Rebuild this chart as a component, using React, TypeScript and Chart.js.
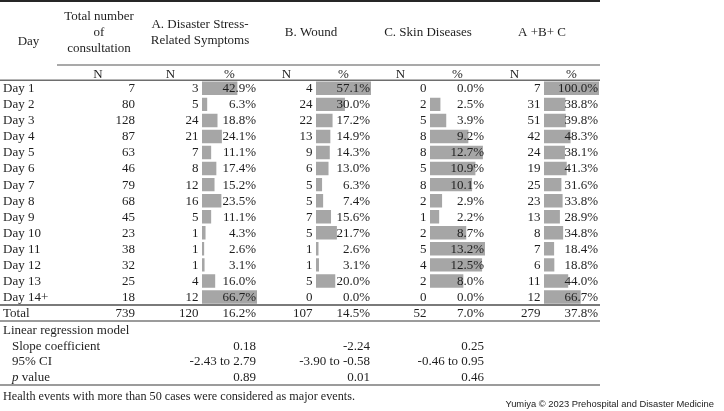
import React, { useEffect, useRef } from 'react';
import { Chart, registerables } from 'chart.js';

Chart.register(...registerables);

// ---- data ----
const days = ['Day 1', 'Day 2', 'Day 3', 'Day 4', 'Day 5', 'Day 6', 'Day 7', 'Day 8', 'Day 9', 'Day 10', 'Day 11', 'Day 12', 'Day 13', 'Day 14+'];
const totalN = [7, 80, 128, 87, 63, 46, 79, 68, 45, 23, 38, 32, 25, 18];
const stressN = [3, 5, 24, 21, 7, 8, 12, 16, 5, 1, 1, 1, 4, 12];
const stressPct = [42.9, 6.3, 18.8, 24.1, 11.1, 17.4, 15.2, 23.5, 11.1, 4.3, 2.6, 3.1, 16.0, 66.7];
const woundN = [4, 24, 22, 13, 9, 6, 5, 5, 7, 5, 1, 1, 5, 0];
const woundPct = [57.1, 30.0, 17.2, 14.9, 14.3, 13.0, 6.3, 7.4, 15.6, 21.7, 2.6, 3.1, 20.0, 0.0];
const skinN = [0, 2, 5, 8, 8, 5, 8, 2, 1, 2, 5, 4, 2, 0];
const skinPct = [0.0, 2.5, 3.9, 9.2, 12.7, 10.9, 10.1, 2.9, 2.2, 8.7, 13.2, 12.5, 8.0, 0.0];
const allN = [7, 31, 51, 42, 24, 19, 25, 23, 13, 8, 7, 6, 11, 12];
const allPct = [100.0, 38.8, 39.8, 48.3, 38.1, 41.3, 31.6, 33.8, 28.9, 34.8, 18.4, 18.8, 44.0, 66.7];

const totalsN = [739, 120, 107, 52, 279]; // total, A, B, C, A+B+C
const totalsPct = [16.2, 14.5, 7.0, 37.8]; // A, B, C, A+B+C

const groupTitles = [['A. Disaster Stress-', 'Related Symptoms'], ['B. Wound'], ['C. Skin Diseases'], ['A +B+ C']];
const slopeCoef = ['0.18', '-2.24', '0.25'];
const ciText = ['-2.43 to 2.79', '-3.90 to -0.58', '-0.46 to 0.95'];
const pValues = ['0.89', '0.01', '0.46'];
const footnote = 'Health events with more than 50 cases were considered as major events.';
const credit = 'Yumiya © 2023 Prehospital and Disaster Medicine';

// ---- layout (column widths as stacked x-axes) ----
const COLS = [
  { id: 'xDay', w: 57 },
  { id: 'xTot', w: 82 },
  { id: 'xAN', w: 63 },
  { id: 'xA', w: 55 },
  { id: 'xBN', w: 59 },
  { id: 'xB', w: 55 },
  { id: 'xCN', w: 59 },
  { id: 'xC', w: 55 },
  { id: 'xEN', w: 59 },
  { id: 'xE', w: 55 },
  { id: 'xPad', w: 125 },
];
const GROUPS = [
  { nId: 'xAN', pId: 'xA', n: stressN, p: stressPct, dx: 2 },
  { nId: 'xBN', pId: 'xB', n: woundN, p: woundPct, dx: -3 },
  { nId: 'xCN', pId: 'xC', n: skinN, p: skinPct, dx: 0 },
  { nId: 'xEN', pId: 'xE', n: allN, p: allPct, dx: 0 },
];

const SERIF = '"Liberation Serif", "Times New Roman", serif';
const F = `13px ${SERIF}`;
const TEXT = '#1e1e1e';
const BAR = '#a6a6a6';

const tablePlugin = {
  id: 'tableText',
  afterDraw(chart: any) {
    const ctx: CanvasRenderingContext2D = chart.ctx;
    const s = chart.scales;
    const yS = s.y;
    const area = chart.chartArea;
    const L = (id: string) => s[id].left;
    const R = (id: string) => s[id].right;
    const C = (a: string, b: string) => (s[a].left + s[b].right) / 2;
    const tableRight = R('xE') + 1;

    ctx.save();
    ctx.fillStyle = TEXT;
    ctx.textBaseline = 'middle';
    const txt = (t: string, x: number, y: number, align: CanvasTextAlign = 'left', font = F) => {
      ctx.font = font;
      ctx.textAlign = align;
      ctx.fillText(t, x, y);
    };
    const hline = (x0: number, x1: number, y: number, color: string, lw: number) => {
      ctx.beginPath();
      ctx.strokeStyle = color;
      ctx.lineWidth = lw;
      ctx.moveTo(x0, y);
      ctx.lineTo(x1, y);
      ctx.stroke();
    };

    // header
    hline(0, tableRight, 1, '#262626', 2);
    txt('Day', C('xDay', 'xDay'), 42, 'center');
    const tc = C('xTot', 'xTot') + 1;
    txt('Total number', tc, 17, 'center');
    txt('of', tc, 33, 'center');
    txt('consultation', tc, 49, 'center');
    GROUPS.forEach((g, i) => {
      const cx = C(g.nId, g.pId) + g.dx;
      const lines = groupTitles[i];
      if (lines.length === 2) {
        txt(lines[0], cx, 25, 'center');
        txt(lines[1], cx, 41, 'center');
      } else {
        txt(lines[0], cx, 33, 'center');
      }
    });
    hline(L('xTot'), tableRight, 65, '#8c8c8c', 1.5);
    txt('N', C('xTot', 'xTot'), 74.5, 'center');
    GROUPS.forEach((g) => {
      txt('N', C(g.nId, g.nId), 74.5, 'center');
      txt('%', C(g.pId, g.pId), 74.5, 'center');
    });
    hline(0, tableRight, area.top, '#6e6e6e', 1.5);

    // body rows
    days.forEach((d, i) => {
      const y = yS.getPixelForValue(i) + 0.5;
      txt(d, 3, y);
      txt(String(totalN[i]), R('xTot') - 4, y, 'right');
      GROUPS.forEach((g) => {
        txt(String(g.n[i]), R(g.nId) - 3.5, y, 'right');
        txt(g.p[i].toFixed(1) + '%', R(g.pId) - 1, y, 'right');
      });
    });
    hline(0, tableRight, area.bottom, '#7a7a7a', 2);

    // totals
    const ty = area.bottom + 8.8;
    txt('Total', 3, ty);
    txt(String(totalsN[0]), R('xTot') - 4, ty, 'right');
    GROUPS.forEach((g, k) => {
      txt(String(totalsN[k + 1]), R(g.nId) - 3.5, ty, 'right');
      txt(totalsPct[k].toFixed(1) + '%', R(g.pId) - 1, ty, 'right');
    });
    hline(0, tableRight, area.bottom + 16, '#7a7a7a', 1.5);

    // regression
    const r0 = area.bottom + 26;
    txt('Linear regression model', 3, r0);
    txt('Slope coefficient', 12, r0 + 15.5);
    txt('95% CI', 12, r0 + 31);
    ctx.font = `italic 13px ${SERIF}`;
    ctx.textAlign = 'left';
    ctx.fillText('p', 12, r0 + 46.5);
    const pw = ctx.measureText('p').width;
    txt(' value', 12 + pw, r0 + 46.5);
    for (let k = 0; k < 3; k++) {
      const x = R(GROUPS[k].pId) - 1;
      txt(slopeCoef[k], x, r0 + 15.5, 'right');
      txt(ciText[k], x, r0 + 31, 'right');
      txt(pValues[k], x, r0 + 46.5, 'right');
    }
    hline(0, tableRight, r0 + 54, '#7a7a7a', 1.5);

    txt(footnote, 3, r0 + 66, 'left', `12.2px ${SERIF}`);
    ctx.fillStyle = '#222';
    txt(credit, 714, 404, 'right', '9.4px "Liberation Sans", Arial, sans-serif');
    ctx.restore();
  },
};

export default function App() {
  const ref = useRef<HTMLCanvasElement | null>(null);
  useEffect(() => {
    document.body.style.margin = '0';
    const canvas = ref.current;
    if (!canvas) return;
    const maxOf = (a: number[]) => Math.max(...a);
    const barCols: Record<string, number[]> = { xA: stressPct, xB: woundPct, xC: skinPct, xE: allPct };
    const scales: any = {
      y: {
        type: 'category',
        position: 'left',
        labels: days,
        display: false,
        offset: true,
      },
    };
    COLS.forEach((c) => {
      scales[c.id] = {
        type: 'linear',
        position: 'bottom',
        stack: 'cols',
        stackWeight: c.w,
        display: false,
        min: 0,
        max: barCols[c.id] ? maxOf(barCols[c.id]) : 1,
      };
    });
    const datasets = GROUPS.map((g) => ({
      label: g.pId,
      data: g.p,
      xAxisID: g.pId,
      yAxisID: 'y',
      backgroundColor: BAR,
      borderWidth: 0,
      barPercentage: 0.84,
      categoryPercentage: 1,
      grouped: false,
    }));
    const chart = new Chart(canvas, {
      type: 'bar',
      data: { labels: days, datasets },
      options: {
        indexAxis: 'y',
        animation: false,
        responsive: true,
        maintainAspectRatio: false,
        events: [],
        layout: { padding: { top: 80.3, bottom: 106, left: 0, right: 0 } },
        plugins: { legend: { display: false }, tooltip: { enabled: false }, title: { display: false } },
        scales,
      },
      plugins: [tablePlugin],
    } as any);
    return () => chart.destroy();
  }, []);
  return (
    <div style={{ position: 'relative', width: 724, height: 411, background: '#fff' }}>
      <canvas ref={ref} />
    </div>
  );
}
